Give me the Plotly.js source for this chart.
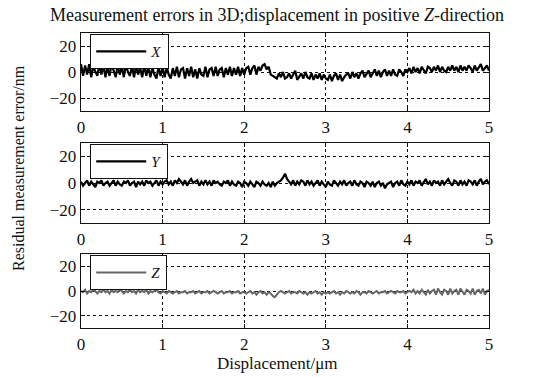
<!DOCTYPE html>
<html>
<head>
<meta charset="utf-8">
<script src="https://cdn.plot.ly/plotly-3.0.1.min.js"></script>
<style>html,body{margin:0;padding:0;background:#fff;}</style>
</head>
<body>
<div id="chart" style="width:533px;height:377px;"></div>
<script>
// Displacement grid: 0 to 5 um sampled every 0.025 um
const xStart = 0;
const xStep = 0.025;

const seriesNames = ["X", "Y", "Z"];
const xTickVals = [0, 1, 2, 3, 4, 5];
const yTickVals = [-20, 0, 20];

const errX = [
  6,-3,5,-2,6,-4,4,1,-3,6, -2,5,-4,4,-3,6,0,-4,5,-2, 4,-4,6,0,-3,5,-4,5,-2,3, -4,5,-3,4,-4,3,-2,-5,4,-3, 3,
  -4,4,-2,-5,3,-3,4,-4,2,3, -5,3,-3,4,-4,2,-5,3,-2,-3, 4,-4,2,3,-3,4,-3,2,3,-4, 3,-2,4,-3,3,-2,4,-3,3,-2,
  3,4,-2,3,5,-2,4,1,5,6, 2,4,-2,-3,-4,-5,-1,-4,0,-5, -4,-1,-5,-2,1,-6,-3,-1,-5,0, -4,-5,-1,-6,-2,-5,-1,-6,-2,-5,
  -6,-2,-7,-3,-1,-6,-2,-7,-4,-2, -1,-5,0,-4,-1,-5,-1,1,-4,-1, 1,-4,-1,2,-3,1,-4,0,2,-3, 1,-3,2,-2,-3,2,0,-3,2,0,
  3,-1,4,0,3,-1,4,1,-1,4, 3,0,4,1,5,0,4,1,0,4, 1,5,1,4,0,5,1,4,1,5, 3,0,5,1,4,6,1,3,5,1
];
const errY = [
  1,-2,0,2,-2,1,-1,-3,1,0, 2,-2,0,1,-2,0,2,-2,1,-1, -2,1,0,2,-2,0,1,-3,1,-1, 1,-2,2,0,1,-2,0,2,-2,1, -1,
  1,2,-1,1,-2,2,0,3,1,-1, 2,-2,1,3,0,1,2,-2,1,-1, 2,-1,1,-2,2,0,1,-1,-2,1, 0,2,-2,1,-1,-2,1,0,-3,1,
  0,-2,1,-1,-3,1,0,-2,1,-1, -2,0,-3,1,-2,0,1,2,4,7, 3,1,-1,2,-2,1,-1,2,1,-2, 2,-1,1,-2,0,2,-2,1,-1,-3,
  1,-1,-2,2,0,-2,1,-1,2,-2, 0,1,-2,2,-1,-2,1,0,-3,1, 0,-2,1,-3,0,1,-2,0,-4,-1, 0,1,-3,0,1,-2,2,-1,-2,1,
  -1,2,-2,1,0,2,-2,1,3,-1, 1,-2,2,0,1,-2,2,-1,1,3, 0,-2,2,1,-2,2,-1,1,-2,2, 1,-1,2,-2,1,3,-1,1,2,-1
];
const errZ = [
  0,-1,1,-2,0,-1,1,0,-2,0, -1,1,-1,0,-2,1,-1,0,-1,1, 0,-2,0,-1,1,-1,0,-2,1,-1, 0,-1,1,-2,0,-1,0,1,-1,-2, 0,
  -1,-2,0,-1,-2,-1,0,-2,-1,-1, 0,-2,-1,-1,0,-2,-1,0,-2,-1, -1,0,-2,-1,0,-1,-2,-1,0,-2, -1,-1,0,-2,-1,-1,0,-2,-1,-1,
  -2,-1,0,-2,-1,-3,-1,0,-2,-1, -3,-1,-2,-4,-5,-3,-1,0,-1,-2, -1,0,-2,-1,-1,-2,0,-1,-2,-1, -3,-1,-2,-1,0,-2,-1,-3,-1,-2,
  -1,-2,-1,0,-2,-1,-3,-1,-2,0, -1,-2,-1,-2,0,-1,-3,-1,-1,-2, 0,-1,-2,-1,0,-2,-1,-1,0,-2, -1,0,-1,-2,0,-1,-1,0,-2,-1,
  0,-1,1,-2,0,-2,1,-1,-3,1, -2,0,1,-3,2,-1,-3,1,0,-3, 2,-2,0,1,-3,2,-1,-3,1,0, -2,2,-3,0,1,-2,2,-3,0,1
];

const seriesData = [errX, errY, errZ];
const seriesColors = ["#000000", "#000000", "#666666"];
const lineWidths = [2.2, 2.2, 2.0];

const FONT = "Liberation Serif, Times New Roman, serif";
const W = 533, H = 377;
const margin = {l: 81, r: 44, t: 33, b: 49};
const plotW = W - margin.l - margin.r;
const plotH = H - margin.t - margin.b;
// pixel top/bottom of each panel
const panels = [[33, 111], [143, 223], [254, 328]];
const toPaper = py => (H - margin.b - py) / plotH;
const toPaperX = px => (px - margin.l) / plotW;

const traces = seriesData.map((d, i) => ({
  type: "scatter",
  mode: "lines",
  x0: xStart,
  dx: xStep,
  y: d,
  name: "<i>" + seriesNames[i] + "</i>",
  line: {color: seriesColors[i], width: lineWidths[i]},
  xaxis: i === 0 ? "x" : "x" + (i + 1),
  yaxis: i === 0 ? "y" : "y" + (i + 1),
  legend: i === 0 ? "legend" : "legend" + (i + 1),
  showlegend: true
}));

const layout = {
  width: W, height: H,
  margin: margin,
  paper_bgcolor: "#fff",
  plot_bgcolor: "#fff",
  font: {family: FONT, size: 16, color: "#111"},
  title: {
    text: "Measurement errors in 3D;displacement in positive <i>Z</i>-direction",
    font: {family: FONT, size: 18, color: "#111"},
    x: toPaperX(277), xref: "paper", xanchor: "center",
    y: 1 - 15 / H, yanchor: "middle"
  },
  annotations: [
    {text: "Residual measurement error/nm", textangle: -90, xref: "paper", yref: "paper",
     x: toPaperX(18), y: toPaper(168), xanchor: "center", yanchor: "middle", showarrow: false,
     font: {family: FONT, size: 16, color: "#111"}},
    {text: "Displacement/μm", xref: "paper", yref: "paper",
     x: toPaperX(277), y: toPaper(363), xanchor: "center", yanchor: "middle",
     showarrow: false, font: {family: FONT, size: 17, color: "#111"}}
  ]
};

panels.forEach((p, i) => {
  const sfx = i === 0 ? "" : String(i + 1);
  const dom = [toPaper(p[1]), toPaper(p[0])];
  const common = {
    showline: true, mirror: "ticks", linecolor: "#111", linewidth: 1.3,
    ticks: "inside", ticklen: 4, tickcolor: "#111",
    showgrid: true, gridcolor: "#111", gridwidth: 1, griddash: "dot",
    zeroline: false, tickfont: {family: FONT, size: 17, color: "#111"}
  };
  layout["xaxis" + sfx] = Object.assign({}, common, {
    domain: [0, 1], range: [0, 5], tickvals: xTickVals,
    anchor: "y" + sfx
  });
  layout["yaxis" + sfx] = Object.assign({}, common, {
    domain: dom, range: [-30, 30], tickvals: yTickVals,
    anchor: "x" + sfx
  });
  layout["legend" + sfx] = {
    x: toPaperX(90), xanchor: "left",
    y: toPaper(p[0] + 1), yanchor: "top",
    bgcolor: "#fff", bordercolor: "#111", borderwidth: 1.2,
    font: {family: FONT, size: 15, color: "#111"},
    itemwidth: 50, tracegroupgap: 0
  };
});

Plotly.newPlot("chart", traces, layout, {displayModeBar: false, staticPlot: true});
</script>
</body>
</html>
